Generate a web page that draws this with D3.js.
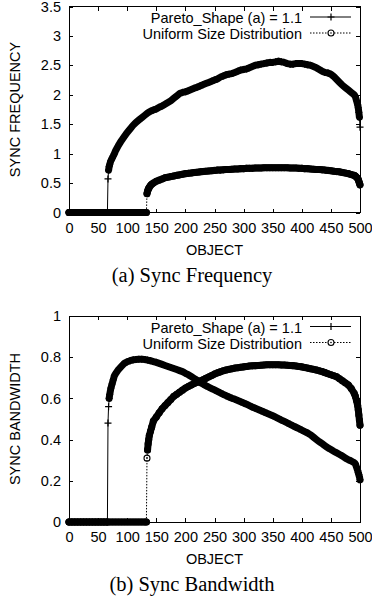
<!DOCTYPE html>
<html>
<head>
<meta charset="utf-8">
<script src="https://cdn.jsdelivr.net/npm/d3@7"></script>
<style>
  body { margin: 0; background: #fff; }
  svg { display: block; }
</style>
</head>
<body>
<script>
// Object indices sampled for the Pareto-sized workload
const paretoObjects = [
  0, 5, 10, 15, 20, 25, 30, 35, 40, 45, 50, 55, 60, 65, 66,
  67, 68, 69, 70, 72, 74, 76, 78,
  80, 85, 90, 95, 100, 105, 110, 115, 120, 125,
  130, 135, 140, 145, 150, 155, 160, 165, 170, 175,
  180, 185, 190, 195, 200, 205, 210, 215, 220, 225,
  230, 235, 240, 245, 250, 255, 260, 265, 270, 275,
  280, 285, 290, 295, 300, 305, 310, 315, 320, 325,
  330, 335, 340, 345, 350, 355, 360, 365, 370, 375,
  380, 385, 390, 395, 400, 405, 410, 415, 420, 425,
  430, 435, 440, 445, 450, 455, 460, 465, 470, 475,
  480, 485, 490,
  492, 494, 496, 497, 498, 499, 500
];

const paretoFrequency = [
  0, 0, 0, 0, 0, 0, 0, 0, 0, 0, 0, 0, 0, 0, 0,
  0.57, 0.72, 0.78, 0.82, 0.88, 0.92, 0.96, 1.00,
  1.05, 1.14, 1.22, 1.29, 1.36, 1.42, 1.48, 1.53, 1.57, 1.61,
  1.65, 1.69, 1.72, 1.74, 1.76, 1.79, 1.81, 1.84, 1.87, 1.90,
  1.94, 1.98, 2.02, 2.04, 2.05, 2.07, 2.09, 2.11, 2.13, 2.15,
  2.17, 2.19, 2.21, 2.23, 2.25, 2.27, 2.30, 2.32, 2.34, 2.35,
  2.36, 2.38, 2.40, 2.42, 2.43, 2.44, 2.46, 2.48, 2.50, 2.51,
  2.52, 2.53, 2.54, 2.55, 2.55, 2.56, 2.57, 2.56, 2.55, 2.53,
  2.52, 2.52, 2.53, 2.53, 2.53, 2.52, 2.51, 2.50, 2.48, 2.46,
  2.43, 2.40, 2.38, 2.37, 2.35, 2.31, 2.26, 2.21, 2.16, 2.12,
  2.08, 2.04, 2.00,
  1.97, 1.90, 1.83, 1.78, 1.70, 1.62, 1.45
];

const paretoBandwidth = [
  0, 0, 0, 0, 0, 0, 0, 0, 0, 0, 0, 0, 0, 0, 0,
  0.48, 0.56, 0.60, 0.62, 0.65, 0.67, 0.69, 0.71,
  0.720, 0.740, 0.755, 0.770, 0.778, 0.783, 0.787, 0.789, 0.790, 0.790,
  0.789, 0.786, 0.783, 0.779, 0.775, 0.770, 0.765, 0.760, 0.755, 0.750,
  0.745, 0.740, 0.735, 0.730, 0.722, 0.715, 0.706, 0.697, 0.688, 0.678,
  0.670, 0.662, 0.655, 0.648, 0.641, 0.634, 0.627, 0.620, 0.613, 0.607,
  0.601, 0.596, 0.590, 0.584, 0.578, 0.572, 0.565, 0.558, 0.552, 0.546,
  0.540, 0.534, 0.528, 0.522, 0.516, 0.509, 0.502, 0.495, 0.488, 0.481,
  0.474, 0.467, 0.460, 0.453, 0.446, 0.439, 0.432, 0.423, 0.412, 0.401,
  0.390, 0.380, 0.370, 0.360, 0.352, 0.343, 0.336, 0.328, 0.320, 0.310,
  0.302, 0.296, 0.288,
  0.282, 0.266, 0.250, 0.240, 0.230, 0.220, 0.205
];

// Object indices sampled for the uniform-size workload
const uniformObjects = [
  0, 5, 10, 15, 20, 25, 30, 35, 40, 45, 50, 55, 60, 65,
  70, 75, 80, 85, 90, 95, 100, 105, 110, 115, 120, 125, 130, 133,
  134, 135, 136, 137, 138, 140, 142,
  145, 150, 155, 160, 165, 170, 175, 180, 185, 190,
  195, 200, 205, 210, 215, 220, 225, 230, 235, 240,
  245, 250, 255, 260, 265, 270, 275, 280, 285, 290,
  295, 300, 305, 310, 315, 320, 325, 330, 335, 340,
  345, 350, 355, 360, 365, 370, 375, 380, 385, 390,
  395, 400, 405, 410, 415, 420, 425, 430, 435, 440,
  445, 450, 455, 460, 465, 470, 475, 480, 485, 490,
  492, 494, 496, 497, 498, 499, 500
];

const uniformFrequency = [
  0, 0, 0, 0, 0, 0, 0, 0, 0, 0, 0, 0, 0, 0,
  0, 0, 0, 0, 0, 0, 0, 0, 0, 0, 0, 0, 0, 0,
  0.32, 0.36, 0.39, 0.41, 0.43, 0.46, 0.48,
  0.50, 0.53, 0.55, 0.57, 0.59, 0.60, 0.61, 0.62, 0.63, 0.64,
  0.65, 0.66, 0.665, 0.67, 0.68, 0.685, 0.69, 0.695, 0.70, 0.705,
  0.71, 0.715, 0.72, 0.72, 0.725, 0.73, 0.73, 0.735, 0.74, 0.74,
  0.745, 0.745, 0.75, 0.75, 0.75, 0.755, 0.755, 0.755, 0.76, 0.76,
  0.76, 0.76, 0.76, 0.76, 0.76, 0.76, 0.76, 0.755, 0.755, 0.755,
  0.75, 0.75, 0.745, 0.745, 0.74, 0.735, 0.73, 0.73, 0.725, 0.72,
  0.715, 0.71, 0.70, 0.695, 0.69, 0.68, 0.67, 0.66, 0.645, 0.63,
  0.62, 0.60, 0.58, 0.56, 0.53, 0.50, 0.47
];

const uniformBandwidth = [
  0, 0, 0, 0, 0, 0, 0, 0, 0, 0, 0, 0, 0, 0,
  0, 0, 0, 0, 0, 0, 0, 0, 0, 0, 0, 0, 0, 0,
  0.31, 0.35, 0.38, 0.40, 0.42, 0.44, 0.46,
  0.49, 0.51, 0.53, 0.55, 0.565, 0.58, 0.595, 0.61, 0.62, 0.63,
  0.64, 0.65, 0.658, 0.665, 0.672, 0.678, 0.684, 0.69, 0.697, 0.704,
  0.711, 0.718, 0.724, 0.729, 0.734, 0.738, 0.741, 0.744, 0.747, 0.749,
  0.751, 0.753, 0.755, 0.757, 0.758, 0.759, 0.760, 0.761, 0.762, 0.763,
  0.763, 0.763, 0.763, 0.763, 0.762, 0.762, 0.761, 0.760, 0.759, 0.757,
  0.755, 0.753, 0.750, 0.747, 0.744, 0.741, 0.738, 0.734, 0.730, 0.725,
  0.720, 0.715, 0.710, 0.705, 0.695, 0.685, 0.675, 0.665, 0.648, 0.625,
  0.61, 0.59, 0.565, 0.545, 0.52, 0.495, 0.47
];

const xTicks = [0, 50, 100, 150, 200, 250, 300, 350, 400, 450, 500];
const frequencyTicks = [0, 0.5, 1, 1.5, 2, 2.5, 3, 3.5];
const bandwidthTicks = [0, 0.2, 0.4, 0.6, 0.8, 1];
const seriesNames = ["Pareto_Shape (a) = 1.1", "Uniform Size Distribution"];

const W = 372, H = 600;
const plotLeft = 69, plotRight = 360, plotHeight = 206;
const sansFont = "'Liberation Sans', Arial, Helvetica, sans-serif";
const serifFont = "'Liberation Serif', 'Times New Roman', serif";
const markerSpan = 7;   // overlapping point symbols merge into a band this thick

const svg = d3.select("body").append("svg")
  .attr("width", W).attr("height", H)
  .attr("viewBox", `0 0 ${W} ${H}`);

const panels = [
  { top: 6.5, yMax: 3.5, yTicks: frequencyTicks, yTitle: "SYNC FREQUENCY",
    caption: "(a) Sync Frequency", pareto: paretoFrequency, uniform: uniformFrequency },
  { top: 316, yMax: 1, yTicks: bandwidthTicks, yTitle: "SYNC BANDWIDTH",
    caption: "(b) Sync Bandwidth", pareto: paretoBandwidth, uniform: uniformBandwidth }
];

const plusPath = "M-3.5,0H3.5M0,-3.5V3.5";

// Path covering the stretches where successive symbols sit closer than their
// own size, so they read as one continuous black band.
function bandPath(px) {
  let d = "";
  for (let i = 1; i < px.length; i++) {
    const [x0, y0] = px[i - 1], [x1, y1] = px[i];
    if (Math.hypot(x1 - x0, y1 - y0) < markerSpan + 1) {
      d += `M${x0},${y0}L${x1},${y1}`;
    }
  }
  return d;
}

function drawPanel(p) {
  const g = svg.append("g");
  const bottom = p.top + plotHeight;
  const x = d3.scaleLinear().domain([0, 500]).range([plotLeft, plotRight]);
  const y = d3.scaleLinear().domain([0, p.yMax]).range([bottom, p.top]);
  const fmt = d => String(d);

  // inward ticks on all four sides, labels on left and bottom
  const axB = g.append("g").attr("transform", `translate(0,${bottom})`)
    .call(d3.axisBottom(x).tickValues(xTicks).tickSize(-4).tickPadding(10).tickFormat(fmt));
  const axT = g.append("g").attr("transform", `translate(0,${p.top})`)
    .call(d3.axisTop(x).tickValues(xTicks).tickSize(-4).tickFormat(""));
  const axL = g.append("g").attr("transform", `translate(${plotLeft},0)`)
    .call(d3.axisLeft(y).tickValues(p.yTicks).tickSize(-4).tickPadding(8).tickFormat(fmt));
  const axR = g.append("g").attr("transform", `translate(${plotRight},0)`)
    .call(d3.axisRight(y).tickValues(p.yTicks).tickSize(-4).tickFormat(""));
  [axB, axT, axL, axR].forEach(a => {
    a.select(".domain").remove();
    a.selectAll("line").attr("stroke", "#000").attr("shape-rendering", "crispEdges");
    a.selectAll("text").attr("font-family", sansFont).attr("font-size", 14.5).attr("fill", "#000");
  });

  // plot frame
  g.append("rect")
    .attr("x", plotLeft).attr("y", p.top)
    .attr("width", plotRight - plotLeft).attr("height", plotHeight)
    .attr("fill", "none").attr("stroke", "#000").attr("stroke-width", 1)
    .attr("shape-rendering", "crispEdges");

  const paretoPx = paretoObjects.map((o, i) => [x(o), y(p.pareto[i])]);
  const uniformPx = uniformObjects.map((o, i) => [x(o), y(p.uniform[i])]);
  const line = d3.line();

  // uniform series: dotted line with circled-dot markers
  g.append("path").attr("d", bandPath(uniformPx))
    .attr("fill", "none").attr("stroke", "#000").attr("stroke-width", markerSpan)
    .attr("stroke-linecap", "round");
  g.append("path").attr("d", line(uniformPx))
    .attr("fill", "none").attr("stroke", "#000").attr("stroke-width", 1)
    .attr("stroke-dasharray", "1.5,1.5");
  const uMarks = g.append("g").selectAll("g").data(uniformPx).join("g")
    .attr("transform", d => `translate(${d[0]},${d[1]})`);
  uMarks.append("circle").attr("r", 3).attr("fill", "none")
    .attr("stroke", "#000").attr("stroke-width", 1.1);
  uMarks.append("circle").attr("r", 0.8).attr("fill", "#000");

  // Pareto series: solid line with plus markers
  g.append("path").attr("d", bandPath(paretoPx))
    .attr("fill", "none").attr("stroke", "#000").attr("stroke-width", markerSpan)
    .attr("stroke-linecap", "round");
  g.append("path").attr("d", line(paretoPx))
    .attr("fill", "none").attr("stroke", "#000").attr("stroke-width", 1);
  g.append("g").selectAll("path").data(paretoPx).join("path")
    .attr("transform", d => `translate(${d[0]},${d[1]})`)
    .attr("d", plusPath).attr("fill", "none")
    .attr("stroke", "#000").attr("stroke-width", 1.2);

  // legend (top-right inside the frame)
  const lx0 = 310, lx1 = 351, lxm = 331, tx = 302;
  const r1 = p.top + 16.8, r2 = p.top + 32.8;
  g.append("text").attr("x", tx).attr("y", r1).attr("text-anchor", "end")
    .attr("font-family", sansFont).attr("font-size", 14.5).text(seriesNames[0]);
  g.append("line").attr("x1", lx0).attr("x2", lx1).attr("y1", r1 - 6.3).attr("y2", r1 - 6.3)
    .attr("stroke", "#000").attr("stroke-width", 1);
  g.append("path").attr("d", plusPath).attr("transform", `translate(${lxm},${r1 - 6.3})`)
    .attr("stroke", "#000").attr("stroke-width", 1.2);
  g.append("text").attr("x", tx).attr("y", r2).attr("text-anchor", "end")
    .attr("font-family", sansFont).attr("font-size", 14.5).text(seriesNames[1]);
  g.append("line").attr("x1", lx0).attr("x2", lx1).attr("y1", r2 - 6.3).attr("y2", r2 - 6.3)
    .attr("stroke", "#000").attr("stroke-width", 1).attr("stroke-dasharray", "1.5,1.5");
  g.append("circle").attr("cx", lxm).attr("cy", r2 - 6.3).attr("r", 3)
    .attr("fill", "#fff").attr("stroke", "#000").attr("stroke-width", 1.1);
  g.append("circle").attr("cx", lxm).attr("cy", r2 - 6.3).attr("r", 0.8).attr("fill", "#000");

  // axis titles
  g.append("text").attr("x", (plotLeft + plotRight) / 2).attr("y", bottom + 42)
    .attr("text-anchor", "middle").attr("font-family", sansFont).attr("font-size", 14.5)
    .text("OBJECT");
  g.append("text")
    .attr("transform", `translate(20,${p.top + plotHeight / 2}) rotate(-90)`)
    .attr("text-anchor", "middle").attr("font-family", sansFont).attr("font-size", 14.5)
    .text(p.yTitle);

  // panel caption
  g.append("text").attr("x", 192).attr("y", bottom + 69)
    .attr("text-anchor", "middle").attr("font-family", serifFont).attr("font-size", 20.5)
    .text(p.caption);
}

panels.forEach(drawPanel);
</script>
</body>
</html>
